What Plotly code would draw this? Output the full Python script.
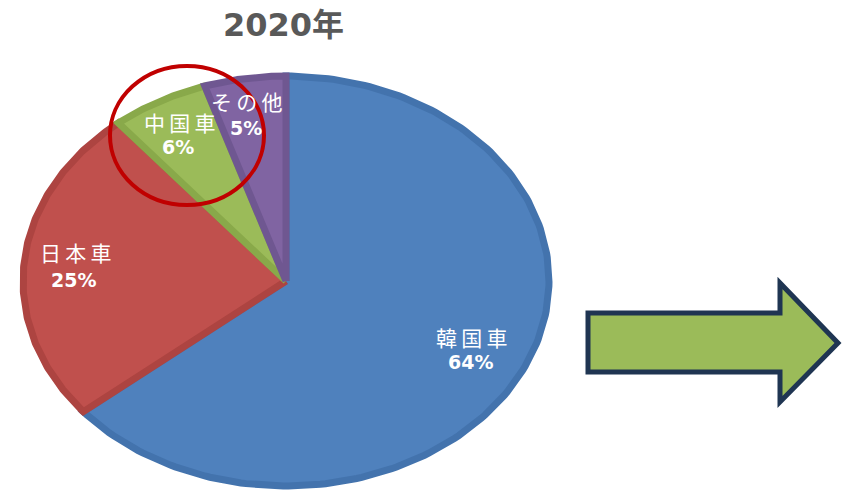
import numpy as np
import plotly.graph_objects as go

# ---- data -------------------------------------------------------------
categories = ["韓国車", "日本車", "中国車", "その他"]
shares = [64, 25, 6, 5]
pct_labels = ["64%", "25%", "6%", "5%"]
title_text = "2020年"

fill_colors = ["#4f81bd", "#c0504d", "#9bbb59", "#8064a2"]
rim_colors = ["#4373ad", "#ad4441", "#89a94a", "#6f5791"]

# ---- geometry (pixels) -------------------------------------------------
W, H = 843, 494
CX, CY = 286, 281      # pie centre
RX, RY = 263, 205      # horizontal / vertical radius of the flattened pie

# axis ranges chosen so the unit circle is drawn as the flattened pie
x_range = [-CX / RX, (W - CX) / RX]
y_range = [(CY - H) / RY, CY / RY]


def px(x, y):
    """pixel position -> paper coordinates"""
    return x / W, 1 - y / H


fig = go.Figure()

# ---- pie slices, clockwise from 12 o'clock -----------------------------
total = float(sum(shares))
bounds = np.concatenate([[0.0], np.cumsum(shares) / total])
for i, name in enumerate(categories):
    t = np.linspace(bounds[i], bounds[i + 1], 200) * 2 * np.pi
    xs = np.concatenate([[0.0], np.sin(t), [0.0]])
    ys = np.concatenate([[0.0], np.cos(t), [0.0]])
    fig.add_trace(go.Scatter(
        x=xs, y=ys, mode="lines", fill="toself",
        fillcolor=fill_colors[i],
        line=dict(color=rim_colors[i], width=7),
        name=name, hoverinfo="name", showlegend=False,
    ))

# ---- slice labels -------------------------------------------------------
name_pos = [(471, 337), (75, 252), (179, 122), (246, 101)]
pct_pos = [(470, 362), (73, 280), (178, 147), (246, 128)]
annotations = []
for i, name in enumerate(categories):
    x, y = px(*name_pos[i])
    annotations.append(dict(
        x=x, y=y, xref="paper", yref="paper", showarrow=False,
        text="\u2009".join(name), xanchor="center", yanchor="middle",
        font=dict(family="Noto Sans CJK JP", size=21, color="white"),
    ))
    x, y = px(*pct_pos[i])
    annotations.append(dict(
        x=x, y=y, xref="paper", yref="paper", showarrow=False,
        text="<b>" + pct_labels[i] + "</b>", xanchor="center", yanchor="middle",
        font=dict(family="DejaVu Sans", size=19, color="white"),
    ))

# ---- title --------------------------------------------------------------
tx, ty = px(283, 25)
annotations.append(dict(
    x=tx, y=ty, xref="paper", yref="paper", showarrow=False,
    text="<b>" + title_text + "</b>", xanchor="center", yanchor="middle",
    font=dict(family="DejaVu Sans, Noto Sans CJK JP", size=32, color="#595959"),
))

# ---- highlight ring and arrow ------------------------------------------
shapes = []
x0, y1 = px(110, 66)
x1, y0 = px(264, 205)
shapes.append(dict(type="circle", xref="paper", yref="paper",
                   x0=x0, y0=y0, x1=x1, y1=y1,
                   line=dict(color="#c00000", width=4)))

arrow_pts = [(588, 313), (780, 313), (780, 283), (838, 343),
             (780, 402), (780, 372), (588, 372)]
path = "M " + " L ".join("%.5f,%.5f" % px(x, y) for x, y in arrow_pts) + " Z"
shapes.append(dict(type="path", xref="paper", yref="paper", path=path,
                   fillcolor="#9bbb59", line=dict(color="#1f3552", width=5)))

fig.update_layout(
    width=W, height=H,
    margin=dict(l=0, r=0, t=0, b=0),
    paper_bgcolor="white", plot_bgcolor="white",
    xaxis=dict(range=x_range, visible=False, fixedrange=True),
    yaxis=dict(range=y_range, visible=False, fixedrange=True),
    annotations=annotations, shapes=shapes,
    showlegend=False,
)

fig.write_html("out.html")
